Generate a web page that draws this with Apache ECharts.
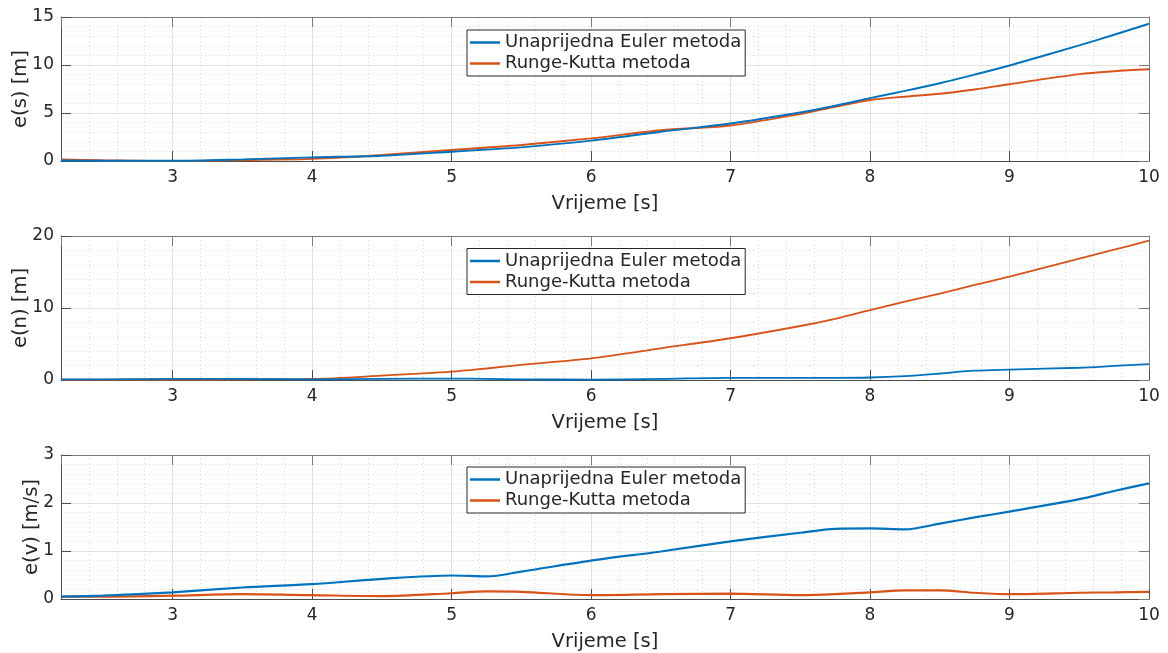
<!DOCTYPE html>
<html>
<head>
<meta charset="utf-8">
<script src="https://cdn.jsdelivr.net/npm/echarts@6/dist/echarts.min.js"></script>
<style>
  html, body { margin: 0; padding: 0; background: #fff; }
  #chart { width: 1168px; height: 653px; }
</style>
</head>
<body>
<div id="chart"></div>
<script>
// Simulation time samples [s]
const time = [2.2, 2.5, 3, 3.5, 4, 4.5, 5, 5.25, 5.5, 6, 6.5, 7, 7.5, 7.75, 8, 8.25, 8.5, 8.75, 9, 9.5, 9.75, 10];

// e(s) [m] – longitudinal position error
const posEuler = [0.05, 0.03, 0.02, 0.17, 0.38, 0.55, 0.97, 1.2, 1.42, 2.12, 3.05, 3.9, 5.05, 5.75, 6.55, 7.3, 8.1, 9.0, 9.95, 12.05, 13.15, 14.3];
const posRK    = [0.15, 0.08, 0.0, 0.1, 0.22, 0.62, 1.15, 1.4, 1.67, 2.36, 3.2, 3.7, 4.9, 5.65, 6.35, 6.7, 7.0, 7.45, 8.0, 9.05, 9.35, 9.55];

// e(n) [m] – lateral position error
const latEuler = [0.1, 0.1, 0.15, 0.15, 0.1, 0.15, 0.2, 0.15, 0.1, 0.05, 0.15, 0.3, 0.3, 0.3, 0.35, 0.55, 0.9, 1.3, 1.45, 1.7, 1.95, 2.2];
const latRK    = [0.05, 0.05, 0.05, 0.1, 0.15, 0.6, 1.15, 1.6, 2.1, 3.0, 4.4, 5.8, 7.5, 8.5, 9.7, 10.9, 12.0, 13.2, 14.35, 16.85, 18.1, 19.35];

// e(v) [m/s] – velocity error
const velEuler = [0.05, 0.07, 0.14, 0.24, 0.31, 0.42, 0.49, 0.47, 0.57, 0.8, 0.99, 1.2, 1.38, 1.46, 1.47, 1.45, 1.57, 1.7, 1.82, 2.08, 2.25, 2.41];
const velRK    = [0.05, 0.05, 0.07, 0.1, 0.08, 0.06, 0.12, 0.16, 0.15, 0.08, 0.1, 0.11, 0.08, 0.1, 0.14, 0.18, 0.18, 0.13, 0.1, 0.13, 0.14, 0.15];

// Axis ticks
const xTickLabels = ['3', '4', '5', '6', '7', '8', '9', '10'];
const posTicks = [0, 5, 10, 15];
const latTicks = [0, 10, 20];
const velTicks = [0, 1, 2, 3];

const seriesNames = ['Unaprijedna Euler metoda', 'Runge-Kutta metoda'];
const yNames = ['e(s) [m]', 'e(n) [m]', 'e(v) [m/s]'];
const xName = 'Vrijeme [s]';

const FONT = 'DejaVu Sans';
const TXT = '#262626';
const AXIS = '#4d4d4d';
const COLORS = ['#0072BD', '#D95319'];
const X_MIN = 2.2, X_MAX = 10;

const panelTops = [17, 236, 455];
const legendTops = [30, 248.5, 467];
const yNameGaps = [30, 30, 19];
const lineWidths = [1.9, 1.8, 2.2];
const panelData = [[posEuler, posRK], [latEuler, latRK], [velEuler, velRK]];
const panelTicks = [posTicks, latTicks, velTicks];

const grid = [], xAxis = [], yAxis = [], series = [], legend = [];

panelTops.forEach((top, i) => {
  grid.push({ left: 61, width: 1088, top: top, height: 144, containLabel: false, outerBoundsMode: 'none' });
  const ticks = panelTicks[i];
  const yMin = ticks[0], yMax = ticks[ticks.length - 1], yInt = ticks[1] - ticks[0];

  // bottom axis with labels and major grid
  xAxis.push({
    gridIndex: i, type: 'value', position: 'bottom', min: X_MIN, max: X_MAX, splitNumber: 8,
    axisLine: { show: true, onZero: false, lineStyle: { color: AXIS, width: 1 } },
    axisTick: { show: true, inside: true, length: 10, lineStyle: { color: AXIS } },
    axisLabel: {
      color: TXT, fontSize: 17, fontFamily: FONT, margin: 8,
      formatter: v => (xTickLabels.includes(String(v)) ? String(v) : '')
    },
    splitLine: { show: true, lineStyle: { color: '#e4e4e4', width: 1 } },
    name: xName, nameLocation: 'middle', nameGap: 33, nameMoveOverlap: false,
    nameTextStyle: { fontSize: 19.5, color: TXT, fontFamily: FONT }
  });
  // top box edge
  xAxis.push({
    gridIndex: i, type: 'value', position: 'top', min: X_MIN, max: X_MAX, splitNumber: 8,
    axisLine: { show: true, onZero: false, lineStyle: { color: '#7a7a7a', width: 1 } },
    axisTick: { show: true, inside: true, length: 10, lineStyle: { color: '#7a7a7a' } },
    axisLabel: { show: false }, splitLine: { show: false }
  });
  // minor vertical grid every 0.2 s
  xAxis.push({
    gridIndex: i, type: 'value', position: 'bottom', min: X_MIN, max: X_MAX, interval: 0.2,
    axisLine: { show: false }, axisTick: { show: false }, axisLabel: { show: false },
    splitLine: { show: true, lineStyle: { color: '#d6d6d6', width: 1, type: [1, 3] } }
  });

  yAxis.push({
    gridIndex: i, type: 'value', position: 'left', min: yMin, max: yMax, interval: yInt,
    axisLine: { show: true, onZero: false, lineStyle: { color: AXIS, width: 1 } },
    axisTick: { show: true, inside: true, length: 10, lineStyle: { color: AXIS } },
    axisLabel: { color: TXT, fontSize: 17, fontFamily: FONT, margin: 7 },
    splitLine: { show: true, lineStyle: { color: '#e4e4e4', width: 1 } },
    minorTick: { show: false, splitNumber: 5 },
    minorSplitLine: { show: true, lineStyle: { color: '#d6d6d6', width: 1, type: [1, 3] } },
    name: yNames[i], nameLocation: 'middle', nameGap: yNameGaps[i], nameMoveOverlap: false,
    nameTextStyle: { fontSize: 19.5, color: TXT, fontFamily: FONT }
  });
  yAxis.push({
    gridIndex: i, type: 'value', position: 'right', min: yMin, max: yMax, interval: yInt,
    axisLine: { show: true, onZero: false, lineStyle: { color: '#7a7a7a', width: 1 } },
    axisTick: { show: true, inside: true, length: 10, lineStyle: { color: '#7a7a7a' } },
    axisLabel: { show: false }, splitLine: { show: false }
  });

  panelData[i].forEach((values, k) => {
    series.push({
      type: 'line', name: seriesNames[k],
      xAxisIndex: 3 * i, yAxisIndex: 2 * i,
      data: time.map((t, j) => [t, values[j]]),
      showSymbol: false, smooth: 0.3,
      lineStyle: { color: COLORS[k], width: lineWidths[i] },
      itemStyle: { color: COLORS[k] },
      z: 3 + (1 - k)
    });
  });

  legend.push({
    left: 467, top: legendTops[i], orient: 'vertical',
    data: seriesNames, icon: 'rect', itemWidth: 30, itemHeight: 2.5, itemGap: 0,
    padding: [2, 4, 2, 3], borderColor: TXT, borderWidth: 1, backgroundColor: '#fff',
    selectedMode: false,
    textStyle: { fontSize: 18, fontFamily: FONT, color: TXT, lineHeight: 21 }
  });
});

const chart = echarts.init(document.getElementById('chart'), null, { renderer: 'canvas' });
chart.setOption({
  animation: false,
  backgroundColor: '#fff',
  color: COLORS,
  grid, xAxis, yAxis, series, legend
});
</script>
</body>
</html>
